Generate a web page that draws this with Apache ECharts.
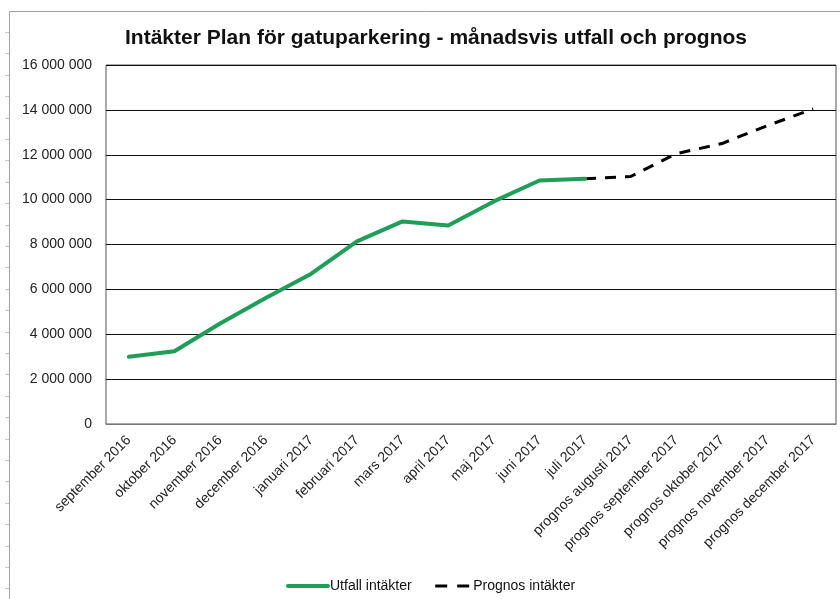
<!DOCTYPE html>
<html>
<head>
<meta charset="utf-8">
<script src="https://cdn.jsdelivr.net/npm/echarts@6/dist/echarts.min.js"></script>
<style>
  html, body { margin: 0; padding: 0; background: #fff; }
  #chart { width: 840px; height: 599px; }
</style>
</head>
<body>
<div id="chart"></div>
<script>
// Months shown on the category axis
var months = [
  'september 2016', 'oktober 2016', 'november 2016', 'december 2016',
  'januari 2017', 'februari 2017', 'mars 2017', 'april 2017', 'maj 2017',
  'juni 2017', 'juli 2017', 'prognos augusti 2017', 'prognos september 2017',
  'prognos oktober 2017', 'prognos november 2017', 'prognos december 2017'
];

// Actual accumulated revenue (kr), september 2016 – juli 2017
var utfall = [3000000, 3240000, 4480000, 5620000, 6700000, 8140000,
              9030000, 8850000, 9920000, 10850000, 10930000];

// Forecast, starting from the last actual month (juli 2017)
var prognosStart = 10;
var prognos = [10930000, 11030000, 12050000, 12500000, 13300000, 14040000];

// Y-axis range and step
var yMin = 0, yMax = 16000000, yStep = 2000000;

function pad(arr, offset, total) {
  var out = [];
  for (var i = 0; i < total; i++) {
    var j = i - offset;
    out.push(j >= 0 && j < arr.length ? arr[j] : null);
  }
  return out;
}

function spaced(v) {
  return String(Math.round(v)).replace(/\B(?=(\d{3})+(?!\d))/g, ' ');
}

var font = '"Liberation Sans", Arial, sans-serif';
var green = '#1e9e58';

// Faint row marks along the left edge of the sheet
var edgeMarks = [];
for (var y = 32; y < 599; y += 21.4) {
  edgeMarks.push({
    type: 'line', silent: true,
    shape: { x1: 5, y1: Math.round(y) + 0.5, x2: 9, y2: Math.round(y) + 0.5 },
    style: { stroke: '#c8c8c8', lineWidth: 1 }
  });
}

var chart = echarts.init(document.getElementById('chart'), null, { renderer: 'canvas' });
chart.setOption({
  backgroundColor: '#ffffff',
  animation: false,
  textStyle: { fontFamily: font },
  title: {
    text: 'Intäkter Plan för gatuparkering - månadsvis utfall och prognos',
    left: 431, top: 23, textAlign: 'center',
    textStyle: { fontFamily: font, fontSize: 21, fontWeight: 'bold', color: '#111' }
  },
  graphic: [{
    type: 'rect', silent: true, z: -1,
    shape: { x: 9.5, y: 11.5, width: 900, height: 700 },
    style: { fill: 'none', stroke: '#a0a0a0', lineWidth: 1 }
  }].concat(edgeMarks),
  legend: {
    left: 281, bottom: 1,
    itemWidth: 40, itemHeight: 4, itemGap: 18,
    textStyle: { fontFamily: font, fontSize: 14, color: '#111', padding: [0, 0, 0, -3] },
    data: [
      { name: 'Utfall intäkter', itemStyle: { opacity: 0 },
        lineStyle: { width: 4, color: green } },
      { name: 'Prognos intäkter', itemStyle: { opacity: 0 },
        lineStyle: { width: 3, color: '#000', type: [12, 10], dashOffset: -4 } }
    ]
  },
  grid: {
    left: 106, right: 4, top: 65, bottom: 175,
    show: true, borderColor: '#555', borderWidth: 1
  },
  xAxis: {
    type: 'category',
    data: months,
    boundaryGap: true,
    axisLine: { show: true, lineStyle: { color: '#777', width: 1 } },
    axisTick: { show: false },
    axisLabel: {
      rotate: 45, interval: 0, margin: 14,
      fontFamily: font, fontSize: 14, color: '#222'
    }
  },
  yAxis: {
    type: 'value',
    min: yMin, max: yMax, interval: yStep,
    axisLine: { show: false },
    axisTick: { show: false },
    splitLine: { show: true, lineStyle: { color: '#111', width: 1 } },
    axisLabel: {
      margin: 14, fontFamily: font, fontSize: 14, color: '#222',
      formatter: spaced
    }
  },
  series: [{
    name: 'Utfall intäkter',
    type: 'line',
    data: pad(utfall, 0, months.length),
    symbol: 'none',
    color: green,
    lineStyle: { color: green, width: 4, cap: 'round', join: 'round' },
    z: 3
  }, {
    name: 'Prognos intäkter',
    type: 'line',
    data: pad(prognos, prognosStart, months.length),
    symbol: 'none',
    color: '#000',
    lineStyle: { color: '#000', width: 3, type: [11, 9] },
    z: 2
  }]
});
</script>
</body>
</html>
